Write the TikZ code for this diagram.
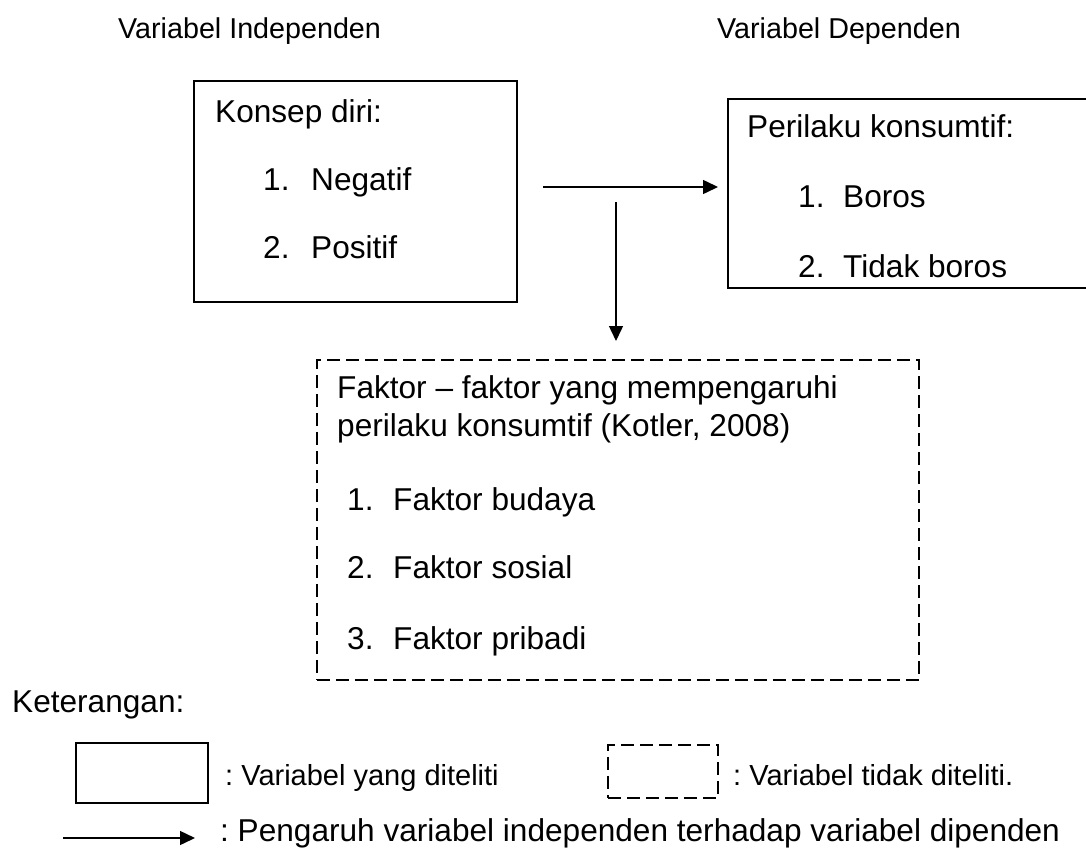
\documentclass[tikz,border=0pt]{standalone}
\usepackage{fontspec}
\setmainfont{Liberation Sans}
\usetikzlibrary{arrows.meta}
\frenchspacing
\tikzset{
  solidbox/.style={draw=black, line width=1.8pt, inner sep=0pt, anchor=north west},
  dashbox/.style={draw=black, line width=1.8pt, dash pattern=on 13pt off 6pt, inner sep=0pt, anchor=north west},
  arr/.style={line width=1.5pt, -{Triangle[length=15pt,width=14pt]}},
  head/.style={anchor=base west, inner sep=0pt, font=\fontsize{28.7}{34}\selectfont},
  txt/.style={anchor=base west, inner sep=0pt, font=\fontsize{31.6}{38}\selectfont},
  leg/.style={anchor=base west, inner sep=0pt, font=\fontsize{29}{35}\selectfont},
}
\begin{document}
\begin{tikzpicture}[x=1pt,y=-1pt]
\useasboundingbox (0,0) rectangle (1086,848);
\clip (0,0) rectangle (1086,848);
% headings
\node[head] (hind) at (118,39) {Variabel Independen};
\node[head] (hdep) at (717,39) {Variabel Dependen};
% box 1
\node[solidbox, minimum width=323pt, minimum height=221pt] (konsep) at (193,80) {};
\node[txt] (k0) at (215,122) {Konsep diri:};
\node[txt] (k1n) at (263,190) {1.};
\node[txt] (k1) at (311,190) {Negatif};
\node[txt] (k2n) at (263,258) {2.};
\node[txt] (k2) at (311,258) {Positif};
% box 2
\node[solidbox, minimum width=370pt, minimum height=189pt] (perilaku) at (727,98) {};
\node[txt] (p0) at (747,138) {Perilaku konsumtif:};
\node[txt] (p1n) at (798,207) {1.};
\node[txt] (p1) at (843,207) {Boros};
\node[txt] (p2n) at (798,277) {2.};
\node[txt] (p2) at (843,277) {Tidak boros};
% dashed box
\node[dashbox, minimum width=602pt, minimum height=320pt] (faktor) at (316,359) {};
\node[txt] (f0) at (337,398) {Faktor – faktor yang mempengaruhi};
\node[txt] (f0b) at (337,436) {perilaku konsumtif (Kotler, 2008)};
\node[txt] (f1n) at (347,510) {1.};
\node[txt] (f1) at (393,510) {Faktor budaya};
\node[txt] (f2n) at (347,578) {2.};
\node[txt] (f2) at (393,578) {Faktor sosial};
\node[txt] (f3n) at (347,649) {3.};
\node[txt] (f3) at (393,649) {Faktor pribadi};
% connectors
\coordinate (hstart) at (543,187);
\draw[arr, shorten >=9pt] (hstart) -- (hstart -| perilaku.west);
\coordinate (vstart) at (616,202);
\draw[arr, shorten >=18pt] (vstart) -- (vstart |- faktor.north);
% legend
\node[txt] (ket) at (12,712) {Keterangan:};
\node[solidbox, minimum width=132pt, minimum height=60pt] (legsolid) at (75,742) {};
\node[leg] (legsolidtxt) at (225,785) {: Variabel yang diteliti};
\node[dashbox, minimum width=110pt, minimum height=53pt] (legdash) at (607,744) {};
\node[leg] (legdashtxt) at (733,785) {: Variabel tidak diteliti.};
\coordinate (la) at (63,838);
\coordinate (lb) at (195,838);
\draw[arr] (la) -- (lb);
\node[txt] (legarrtxt) at (220,841) {: Pengaruh variabel independen terhadap variabel dipenden};
\end{tikzpicture}
\end{document}
